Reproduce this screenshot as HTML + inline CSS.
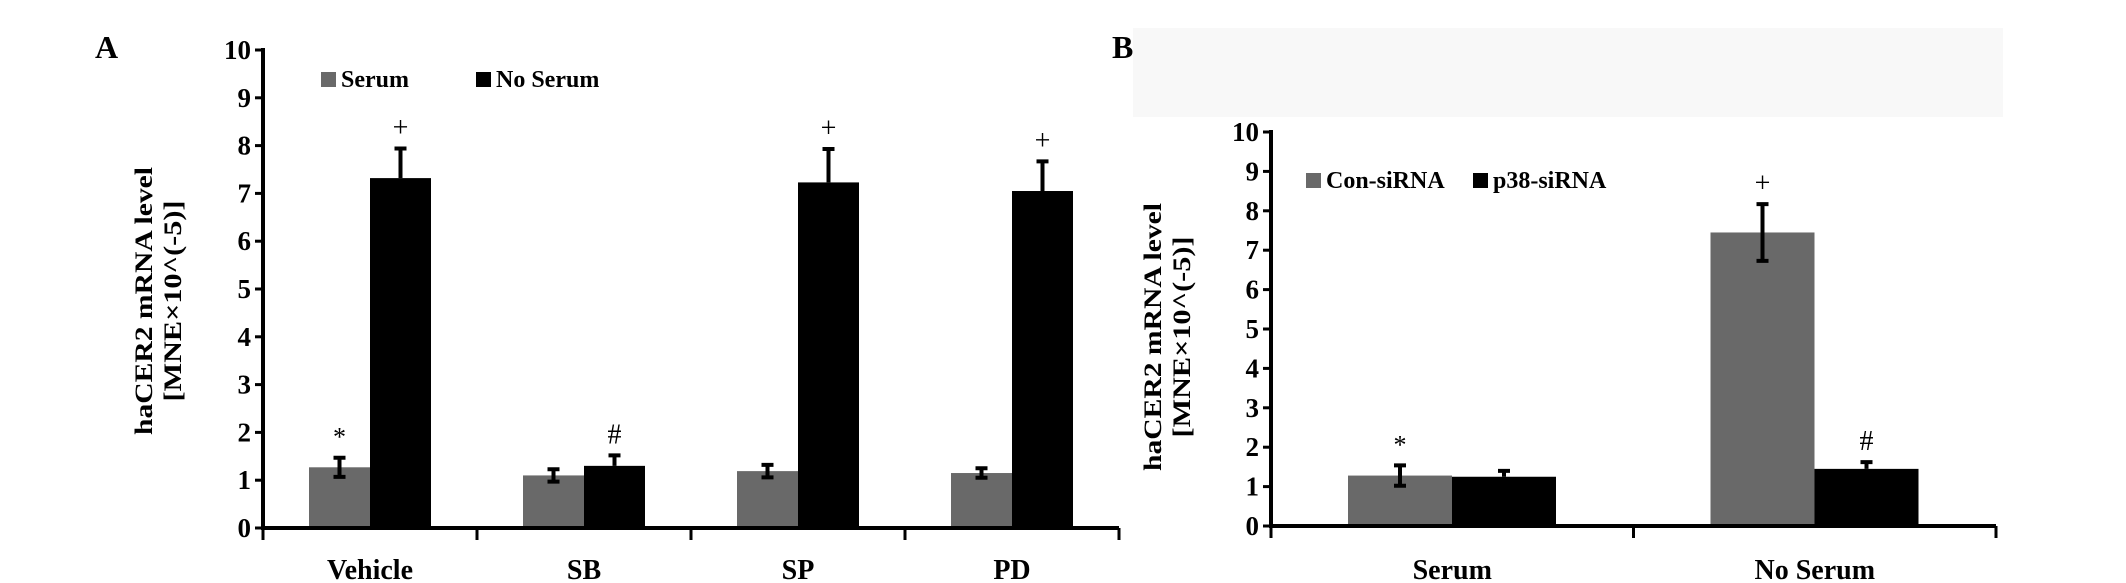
<!DOCTYPE html>
<html><head><meta charset="utf-8"><style>
html,body{margin:0;padding:0;background:#fff;}
svg{display:block;font-family:"Liberation Serif",serif;font-weight:bold;}
</style></head><body>
<svg id="fig" width="2126" height="583" viewBox="0 0 2126 583">
<rect x="1133" y="28" width="870" height="89" fill="#f8f8f8"/>
<text x="95" y="58" font-size="32">A</text>
<text x="1112" y="58" font-size="32">B</text>
<g id="pa"></g>
<g id="pb"></g>
</svg>
<script>
const catsA=["Vehicle","SB","SP","PD"];
const serumA=[1.27,1.1,1.19,1.15];
const serumErrA=[0.2,0.13,0.13,0.1];
const noSerumA=[7.32,1.3,7.23,7.05];
const noSerumErrA=[0.62,0.22,0.7,0.62];
const marksSerumA=["*","","",""];
const marksNoSerumA=["+","#","+","+"];
const catsB=["Serum","No Serum"];
const conB=[1.28,7.45];
const conErrB=[0.26,0.72];
const p38B=[1.25,1.45];
const p38ErrB=[0.15,0.17];
const marksConB=["*","+"];
const marksP38B=["","#"];
const yTicks=[0,1,2,3,4,5,6,7,8,9,10];
const NS="http://www.w3.org/2000/svg";
function mk(parent,tag,attrs,text){const e=document.createElementNS(NS,tag);for(const k in attrs)e.setAttribute(k,attrs[k]);if(text!==undefined)e.textContent=text;parent.appendChild(e);return e;}
function panel(g,cfg){
  const y=v=>cfg.y0-(cfg.y0-cfg.y10)*v/10;
  const gw=(cfg.xEnd-cfg.x0)/cfg.cats.length;
  // bars
  cfg.cats.forEach((c,i)=>{
    const gx=cfg.x0+gw*i;
    const bx1=gx+cfg.off, bx2=bx1+cfg.bw;
    [[cfg.s1,cfg.e1,cfg.m1,bx1,"#696969",true],[cfg.s2,cfg.e2,cfg.m2,bx2,"#000",cfg.s2both]].forEach(([s,e,m,bx,col,both],k)=>{
      const v=s[i];
      const r=mk(g,'rect',{x:bx,y:y(v),width:cfg.bw,height:cfg.y0-y(v),fill:col});
      
      
      const cx=bx+cfg.bw/2;
      const lo=both||k==0?v-e[i]:v;
      const eb=mk(g,'path',{d:`M${cx},${y(lo)}V${y(v+e[i])}M${cx-6},${y(v+e[i])}H${cx+6}`+(lo<v?`M${cx-6},${y(lo)}H${cx+6}`:''),stroke:'#000','stroke-width':4,fill:'none'});
      
      
      if(m[i]){const t=mk(g,'text',{x:cx,y:y(v+e[i])-12,'text-anchor':'middle','font-size':m[i]=="*"?26:28,'font-weight':'normal'},m[i]);
        
        }
    });
    const xl=mk(g,'text',{x:gx+gw/2,y:579,'text-anchor':'middle','font-size':28},c);
    
    
  });
  // axes
  const ax=mk(g,'path',{d:`M${cfg.x0},${cfg.y10-2}V${cfg.y0}H${cfg.xEnd}`,stroke:'#000','stroke-width':4,fill:'none'});
  
  
  for(let i=0;i<=cfg.cats.length;i++){const tx=cfg.x0+gw*i;
    const t=mk(g,'line',{x1:tx,y1:cfg.y0,x2:tx,y2:cfg.y0+12,stroke:'#000','stroke-width':3});
    
    }
  yTicks.forEach(v=>{
    const t=mk(g,'line',{x1:cfg.x0-8,y1:y(v),x2:cfg.x0,y2:y(v),stroke:'#000','stroke-width':3});
    
    
    const l=mk(g,'text',{x:cfg.x0-12,y:y(v)+9,'text-anchor':'end','font-size':27},String(v));
    
    
  });
  // y title
  const tt=mk(g,'text',{transform:`translate(${cfg.tx},${cfg.tc}) rotate(-90)`,'text-anchor':'middle','font-size':25,textLength:cfg.tl,lengthAdjust:'spacingAndGlyphs'},'haCER2 mRNA level');
  
  
  const t2=mk(g,'text',{transform:`translate(${cfg.tx+29},${cfg.tc}) rotate(-90)`,'text-anchor':'middle','font-size':25,textLength:cfg.tl*0.75,lengthAdjust:'spacingAndGlyphs'},'[MNE×10^(-5)]');
  
  
  // legend
  cfg.leg.forEach(([lx,ly,col,label])=>{
    const s=mk(g,'rect',{x:lx,y:ly,width:15,height:15,fill:col});
    
    
    const t=mk(g,'text',{x:lx+20,y:ly+15,'font-size':24},label);
    
    
  });
}
panel(document.getElementById('pa'),{cats:catsA,x0:263,xEnd:1119,y0:528,y10:50,off:46,bw:61,
  s1:serumA,e1:serumErrA,m1:marksSerumA,s2:noSerumA,e2:noSerumErrA,m2:marksNoSerumA,s2both:false,n1:'serum',n2:'no-serum',
  tx:152,tc:301,tl:268,leg:[[321,72,'#696969','Serum'],[476,72,'#000','No Serum']]});
panel(document.getElementById('pb'),{cats:catsB,x0:1271,xEnd:1996,y0:526,y10:132,off:77,bw:104,
  s1:conB,e1:conErrB,m1:marksConB,s2:p38B,e2:p38ErrB,m2:marksP38B,s2both:false,n1:'con-sirna',n2:'p38-sirna',
  tx:1161,tc:337,tl:268,leg:[[1306,173,'#696969','Con-siRNA'],[1473,173,'#000','p38-siRNA']]});
</script>
</body></html>
